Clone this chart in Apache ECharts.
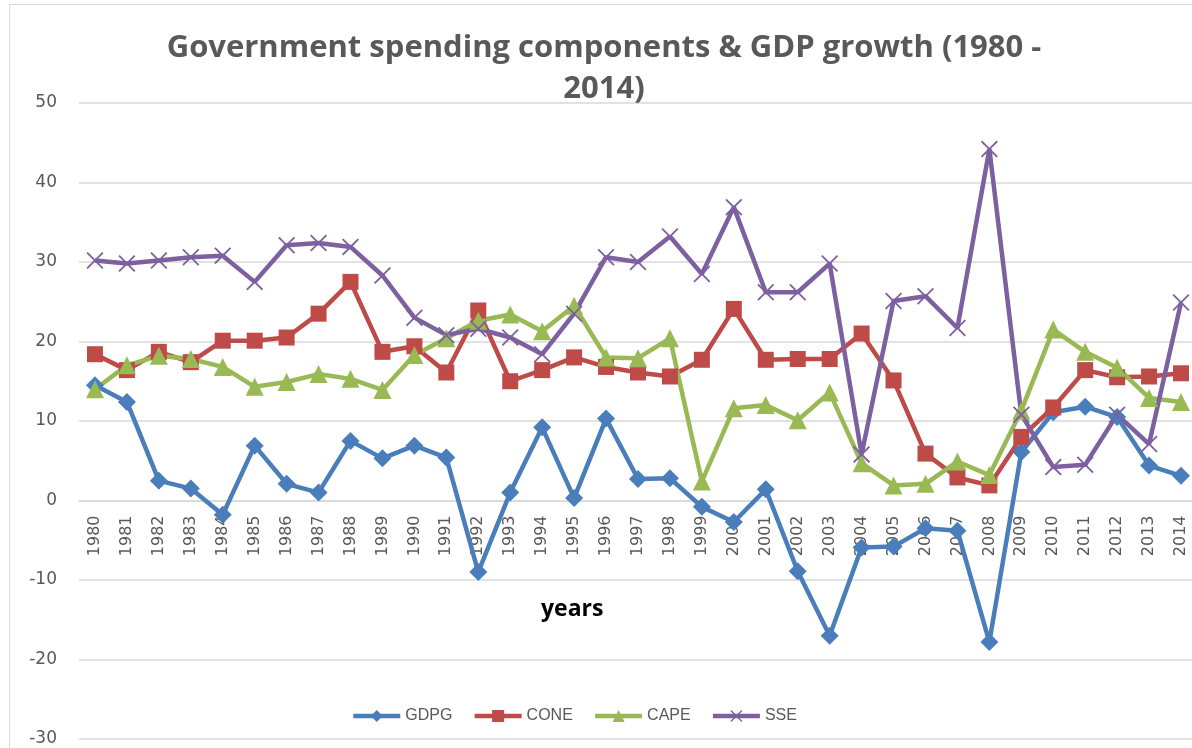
<!DOCTYPE html>
<html>
<head>
<meta charset="utf-8">
<script src="https://cdn.jsdelivr.net/npm/echarts@6/dist/echarts.min.js"></script>
<style>
  html, body { margin: 0; padding: 0; background: #fff; }
  #main { width: 1192px; height: 748px; }
</style>
</head>
<body>
<div id="main"></div>
<script>
const years = ['1980', '1981', '1982', '1983', '1984', '1985', '1986', '1987', '1988', '1989',
  '1990', '1991', '1992', '1993', '1994', '1995', '1996', '1997', '1998', '1999',
  '2000', '2001', '2002', '2003', '2004', '2005', '2006', '2007', '2008', '2009',
  '2010', '2011', '2012', '2013', '2014']

const gdpg = [14.5, 12.4, 2.5, 1.5, -1.8, 6.9, 2.1, 1.0, 7.5, 5.3,
  6.9, 5.4, -9.0, 1.0, 9.2, 0.3, 10.3, 2.7, 2.8, -0.8,
  -2.7, 1.4, -8.9, -17.0, -5.9, -5.8, -3.5, -3.8, -17.8, 6.1,
  11.1, 11.8, 10.5, 4.4, 3.1]

const cone = [18.4, 16.4, 18.7, 17.4, 20.1, 20.1, 20.5, 23.5, 27.5, 18.7,
  19.4, 16.1, 23.9, 15.0, 16.4, 18.0, 16.8, 16.1, 15.6, 17.7,
  24.1, 17.7, 17.8, 17.8, 21.0, 15.1, 5.9, 2.9, 1.9, 8.0,
  11.7, 16.4, 15.5, 15.6, 16.0]

const cape = [14.0, 17.0, 18.2, 17.8, 16.8, 14.3, 14.9, 15.9, 15.3, 13.9,
  18.3, 20.4, 22.6, 23.4, 21.3, 24.5, 18.0, 17.9, 20.4, 2.4,
  11.6, 12.0, 10.1, 13.6, 4.7, 1.9, 2.1, 4.9, 3.2, 11.3,
  21.5, 18.7, 16.7, 12.9, 12.4]

const sse = [30.2, 29.8, 30.2, 30.6, 30.8, 27.5, 32.1, 32.4, 31.9, 28.3,
  23.0, 20.8, 21.6, 20.5, 18.4, 23.5, 30.6, 30.0, 33.2, 28.5,
  36.9, 26.2, 26.2, 29.8, 5.8, 25.1, 25.7, 21.7, 44.2, 10.8,
  4.2, 4.5, 10.8, 7.1, 24.9]

const yTicks = { min: -30, max: 50, interval: 10 }

// plot box in pixels (Excel plot area)
const plotTop = 103
const plotHeight = 636
// lift the category axis up to the zero line
const zeroOffset = -plotHeight * (0 - yTicks.min) / (yTicks.max - yTicks.min)

// Excel-style cross marker, drawn as a filled thin X
const crossPath = 'path://M0,1.5L1.5,0L10,8.5L18.5,0L20,1.5L11.5,10L20,18.5L18.5,20L10,11.5L1.5,20L0,18.5L8.5,10Z'

const txt = '#595959'
const chart = echarts.init(document.getElementById('main'))

function lineSeries (name, data, color, symbol, size) {
  return {
    name: name,
    type: 'line',
    data: data,
    symbol: symbol,
    symbolSize: size,
    showAllSymbol: true,
    lineStyle: { color: color, width: 4.5 },
    itemStyle: { color: color },
    emphasis: { disabled: true },
    animation: false
  }
}

const options = {
  backgroundColor: '#fff',
  animation: false,
  title: {
    text: 'Government spending components & GDP growth (1980 -\n2014)',
    left: 599,
    textAlign: 'center',
    top: 23,
    textStyle: {
      fontFamily: 'Open Sans',
      fontWeight: 'bold',
      fontSize: 31,
      lineHeight: 41,
      color: txt
    }
  },
  legend: {
    bottom: 19,
    left: 346,
    itemWidth: 47,
    itemHeight: 15,
    itemGap: 20,
    lineStyle: { width: 4.5 },
    textStyle: { fontFamily: 'Liberation Sans', fontSize: 16, color: txt },
    data: ['GDPG', 'CONE', 'CAPE', 'SSE']
  },
  grid: {
    left: 79,
    top: plotTop,
    width: 1118,
    height: plotHeight,
    outerBoundsMode: 'none',
    containLabel: false
  },
  xAxis: {
    type: 'category',
    data: years,
    boundaryGap: true,
    offset: zeroOffset,
    axisLine: { onZero: false, lineStyle: { color: '#d9d9d9', width: 1.5 } },
    axisTick: { show: false },
    axisLabel: {
      rotate: 90,
      interval: 0,
      margin: 15,
      fontFamily: 'DejaVu Sans',
      fontSize: 16,
      color: txt
    }
  },
  yAxis: {
    type: 'value',
    min: yTicks.min,
    max: yTicks.max,
    interval: yTicks.interval,
    axisLine: { show: false },
    axisTick: { show: false },
    splitLine: { lineStyle: { color: '#d9d9d9', width: 1.5 } },
    axisLabel: {
      margin: 22,
      fontFamily: 'DejaVu Sans',
      fontSize: 17,
      color: txt
    }
  },
  graphic: [
    {
      type: 'rect',
      shape: { x: 9.5, y: 4.5, width: 1300, height: 800 },
      style: { fill: 'none', stroke: '#d9d9d9', lineWidth: 1 },
      silent: true,
      z: -1
    },
    {
      type: 'text',
      left: 541,
      top: 598,
      style: {
        text: 'years',
        fontFamily: 'Open Sans',
        fontWeight: 'bold',
        fontSize: 23,
        fill: '#000'
      }
    }
  ],
  series: [
    lineSeries('GDPG', gdpg, '#4A7EBB', 'diamond', 18),
    lineSeries('CONE', cone, '#BE4B48', 'rect', 16),
    lineSeries('CAPE', cape, '#98B954', 'triangle', 18),
    lineSeries('SSE', sse, '#7D60A0', crossPath, 17)
  ]
}
chart.setOption(options)
</script>
</body>
</html>
